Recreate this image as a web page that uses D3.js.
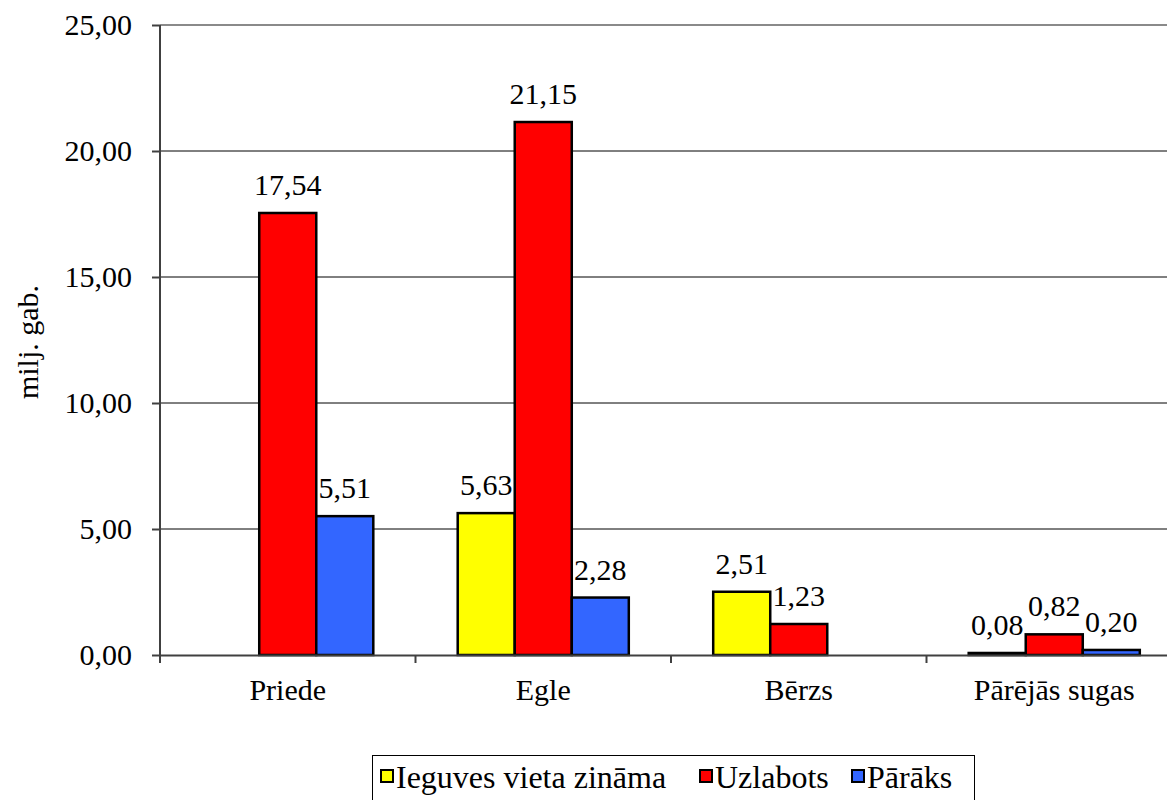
<!DOCTYPE html>
<html>
<head>
<meta charset="utf-8">
<script src="https://cdn.jsdelivr.net/npm/d3@7"></script>
<style>
  body { margin: 0; background: #fff; }
  svg { display: block; }
  svg text { font-family: "Liberation Serif", "Times New Roman", serif; }
</style>
</head>
<body>
<div id="chart"></div>
<script>
// koku sugas un sēklu kategorijas (milj. gab.)
var categories = ["Priede", "Egle", "Bērzs", "Pārējās sugas"];
var seriesNames = ["Ieguves vieta zināma", "Uzlabots", "Pārāks"];
var seriesColors = ["#ffff00", "#ff0000", "#3366ff"];
var ieguvesVieta = [null, 5.63, 2.51, 0.08];
var uzlabots = [17.54, 21.15, 1.23, 0.82];
var paraks = [5.51, 2.28, null, 0.20];
var yTicks = [0, 5, 10, 15, 20, 25];

var values = [ieguvesVieta, uzlabots, paraks];
var fmt = function (v) { return d3.format(".2f")(v).replace(".", ","); };

var width = 1167, height = 800;
var marginLeft = 160, marginTop = 25, plotH = 630, catW = 255.5;
var fontSize = 30;

var svg = d3.select("#chart")
    .append("svg")
    .attr("width", width)
    .attr("height", height);

var x0 = d3.scaleBand()
    .domain(categories)
    .range([marginLeft, marginLeft + catW * categories.length]);

var x1 = d3.scaleBand()
    .domain(d3.range(seriesNames.length))
    .range([0, x0.bandwidth()])
    .paddingOuter(0.74);

var y = d3.scaleLinear()
    .domain([0, 25])
    .range([marginTop + plotH, marginTop]);

// režģa līnijas
svg.append("g")
    .selectAll("line")
    .data(yTicks.slice(1))
    .join("line")
    .attr("x1", marginLeft)
    .attr("x2", x0.range()[1])
    .attr("y1", function (d) { return y(d); })
    .attr("y2", function (d) { return y(d); })
    .style("stroke", function (d) { return d == 25 ? "#8a8a8a" : "#000"; })
    .style("stroke-width", function (d) { return d == 25 ? 2 : 1; });

// stabiņi
var rows = [];
for (var s = 0; s < values.length; s++) {
    for (var c = 0; c < categories.length; c++) {
        if (values[s][c] != null) {
            rows.push({ s: s, c: categories[c], v: values[s][c] });
        }
    }
}

svg.append("g")
    .selectAll("rect")
    .data(rows)
    .join("rect")
    .attr("x", function (d) { return x0(d.c) + x1(d.s); })
    .attr("y", function (d) { return y(d.v); })
    .attr("width", x1.bandwidth())
    .attr("height", function (d) { return y(0) - y(d.v); })
    .style("fill", function (d) { return seriesColors[d.s]; })
    .style("stroke", "#000")
    .style("stroke-width", 2.5);

svg.append("g")
    .selectAll("text")
    .data(rows)
    .join("text")
    .attr("x", function (d) { return x0(d.c) + x1(d.s) + x1.bandwidth() / 2; })
    .attr("y", function (d) { return y(d.v) - 18; })
    .attr("text-anchor", "middle")
    .attr("font-size", fontSize)
    .attr("fill", "#000")
    .text(function (d) { return fmt(d.v); });

// asis
var yAxis = svg.append("g")
    .attr("transform", "translate(" + marginLeft + ",0)")
    .call(d3.axisLeft(y).tickValues(yTicks).tickSize(8).tickPadding(20).tickFormat(fmt))
    .attr("font-family", null)
    .attr("font-size", fontSize);
yAxis.select(".domain").remove();
yAxis.selectAll("line").style("stroke", "#404040").style("stroke-width", 2);
yAxis.selectAll("text").attr("fill", "#000");

svg.append("line")
    .attr("x1", marginLeft).attr("x2", marginLeft)
    .attr("y1", marginTop).attr("y2", y(0))
    .style("stroke", "#404040")
    .style("stroke-width", 2);

var xAxis = svg.append("g")
    .attr("transform", "translate(0," + y(0) + ")")
    .call(d3.axisBottom(x0).tickSize(0).tickPadding(24))
    .attr("font-family", null)
    .attr("font-size", fontSize);
xAxis.select(".domain").style("stroke", "#404040").style("stroke-width", 2);
xAxis.selectAll("text").attr("fill", "#000");

svg.append("g")
    .selectAll("line")
    .data(categories)
    .join("line")
    .attr("x1", function (d) { return x0(d); })
    .attr("x2", function (d) { return x0(d); })
    .attr("y1", y(0))
    .attr("y2", y(0) + 8)
    .style("stroke", "#404040")
    .style("stroke-width", 2);

svg.append("text")
    .attr("transform", "translate(38," + (marginTop + plotH / 2 + 2) + ") rotate(-90)")
    .attr("text-anchor", "middle")
    .attr("font-size", fontSize)
    .text("milj. gab.");

// leģenda
var legend = svg.append("g");
legend.append("rect")
    .attr("x", 372.5).attr("y", 755.5)
    .attr("width", 602).attr("height", 60)
    .style("fill", "#fff")
    .style("stroke", "#000")
    .style("stroke-width", 1);

var legendX = [381, 700, 852];
var item = legend.selectAll("g.item")
    .data(seriesNames)
    .join("g")
    .attr("class", "item")
    .attr("transform", function (d, i) { return "translate(" + legendX[i] + ",770)"; });
item.append("rect")
    .attr("width", 12).attr("height", 12)
    .style("fill", function (d, i) { return seriesColors[i]; })
    .style("stroke", "#000")
    .style("stroke-width", 2);
item.append("text")
    .attr("x", 15)
    .attr("y", 18)
    .attr("font-size", 32)
    .text(function (d) { return d; });
</script>
</body>
</html>
